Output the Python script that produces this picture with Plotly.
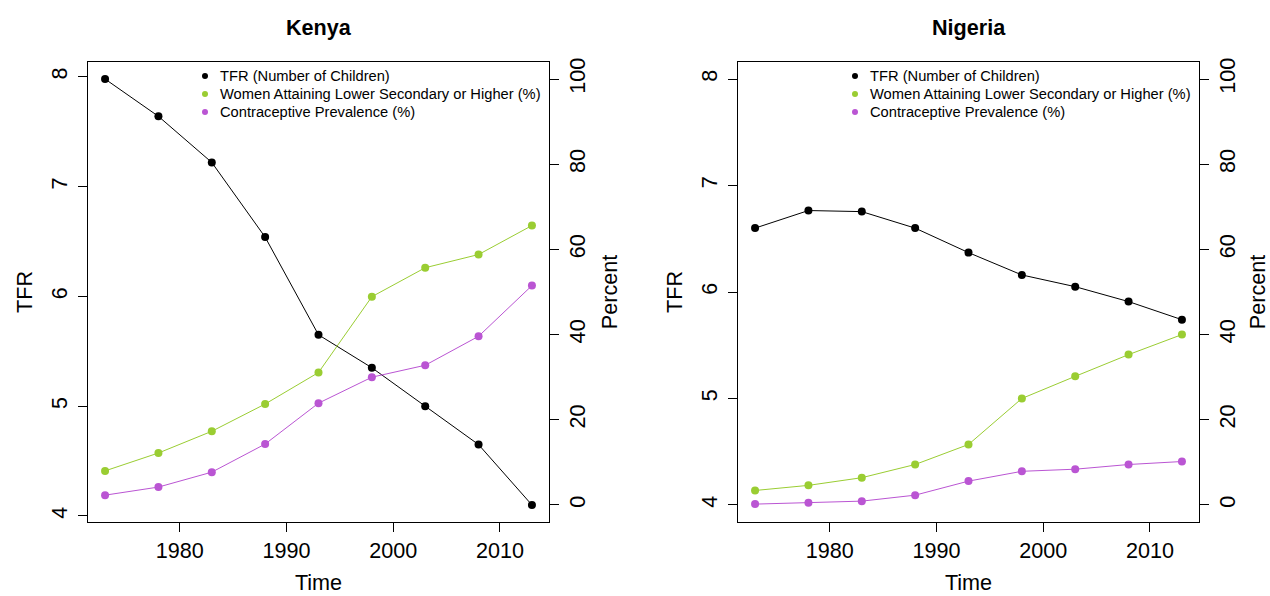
import plotly.graph_objects as go

# Survey years
years = [1973, 1978, 1983, 1988, 1993, 1998, 2003, 2008, 2013]

# Kenya
kenya_tfr = [7.98, 7.64, 7.22, 6.54, 5.65, 5.35, 5.00, 4.65, 4.10]
kenya_edu = [8.0, 12.2, 17.3, 23.7, 31.1, 48.9, 55.7, 58.8, 65.6]
kenya_cpr = [2.3, 4.2, 7.7, 14.3, 23.9, 30.0, 32.8, 39.6, 51.5]

# Nigeria
nigeria_tfr = [6.60, 6.765, 6.755, 6.60, 6.37, 6.16, 6.05, 5.91, 5.74]
nigeria_edu = [3.4, 4.6, 6.4, 9.5, 14.2, 25.0, 30.2, 35.3, 40.0]
nigeria_cpr = [0.2, 0.5, 0.9, 2.3, 5.6, 7.9, 8.4, 9.5, 10.2]

series_names = ["TFR (Number of Children)",
                "Women Attaining Lower Secondary or Higher (%)",
                "Contraceptive Prevalence (%)"]
series_colors = ["#000000", "#9ACD32", "#BA55D3"]

x_ticks = [1980, 1990, 2000, 2010]
tfr_ticks = [4, 5, 6, 7, 8]
pct_ticks = [0, 20, 40, 60, 80, 100]

W, H = 1270, 596
FONT = "Liberation Sans, Arial, Helvetica, sans-serif"


def px(x):
    return x / W


def py(y):
    return 1 - y / H


fig = go.Figure()

panels = [
    dict(name="Kenya", tfr=kenya_tfr, edu=kenya_edu, cpr=kenya_cpr,
         xa="x", ya_l="y", ya_r="y2", left=88, right=549,
         tfr_range=[3.945, 8.135]),
    dict(name="Nigeria", tfr=nigeria_tfr, edu=nigeria_edu, cpr=nigeria_cpr,
         xa="x2", ya_l="y3", ya_r="y4", left=738, right=1199,
         tfr_range=[3.84, 8.16]),
]

top, bottom = 62, 522

annotations = []
shapes = []
for p in panels:
    # TFR on the left axis, percentages on the right axis
    fig.add_trace(go.Scatter(
        x=years, y=p["cpr"], mode="lines+markers", name=series_names[2],
        line=dict(color=series_colors[2], width=1),
        marker=dict(color=series_colors[2], size=8),
        xaxis=p["xa"], yaxis=p["ya_r"], showlegend=False))
    fig.add_trace(go.Scatter(
        x=years, y=p["edu"], mode="lines+markers", name=series_names[1],
        line=dict(color=series_colors[1], width=1),
        marker=dict(color=series_colors[1], size=8),
        xaxis=p["xa"], yaxis=p["ya_r"], showlegend=False))
    fig.add_trace(go.Scatter(
        x=years, y=p["tfr"], mode="lines+markers", name=series_names[0],
        line=dict(color=series_colors[0], width=1),
        marker=dict(color=series_colors[0], size=8),
        xaxis=p["xa"], yaxis=p["ya_l"], showlegend=False))

    # panel title
    annotations.append(dict(
        text="<b>" + p["name"] + "</b>", x=px((p["left"] + p["right"]) / 2),
        y=py(27), xref="paper", yref="paper", xanchor="center",
        yanchor="middle", showarrow=False,
        font=dict(family=FONT, size=21.6, color="black")))

    # legend: dots and labels
    for i, (nm, col) in enumerate(zip(series_names, series_colors)):
        ry = 76 + 18 * i
        shapes.append(dict(
            type="circle", xref="paper", yref="paper",
            xsizemode="pixel", ysizemode="pixel",
            xanchor=px(p["left"] + 117), yanchor=py(ry),
            x0=-3, x1=3, y0=-3, y1=3,
            fillcolor=col, line=dict(color=col, width=0)))
        annotations.append(dict(
            text=nm, x=px(p["left"] + 130), y=py(ry), xref="paper",
            yref="paper", xanchor="left", yanchor="middle", showarrow=False,
            font=dict(family=FONT, size=14.7, color="black")))

axis_font = dict(family=FONT, size=21.6, color="black")
common = dict(showgrid=False, zeroline=False, showline=True,
              linecolor="black", linewidth=1, ticks="outside", ticklen=9,
              tickwidth=1, tickcolor="black", tickfont=axis_font)

layout_axes = {}
for k, p in enumerate(panels):
    xa_key = "xaxis" if k == 0 else "xaxis2"
    yl_key = "yaxis" if k == 0 else "yaxis3"
    yr_key = "yaxis2" if k == 0 else "yaxis4"
    dom_x = [px(p["left"]), px(p["right"])]
    dom_y = [py(bottom), py(top)]
    layout_axes[xa_key] = dict(
        common, domain=dom_x, range=[1971.4, 2014.6], tickvals=x_ticks,
        anchor=p["ya_l"], mirror=True, ticklabelstandoff=0,
        title=dict(text="Time", font=axis_font, standoff=12))
    layout_axes[yl_key] = dict(
        common, domain=dom_y, range=p["tfr_range"], tickvals=tfr_ticks,
        anchor=p["xa"], side="left", tickangle=-90, ticklabelstandoff=2,
        title=dict(text="TFR", font=axis_font, standoff=8))
    layout_axes[yr_key] = dict(
        common, range=[-4, 104], tickvals=pct_ticks,
        anchor=p["xa"], overlaying=p["ya_l"], side="right", tickangle=-90,
        ticklabelstandoff=0,
        title=dict(text="Percent", font=axis_font, standoff=12))

fig.update_layout(
    width=W, height=H,
    margin=dict(l=0, r=0, t=0, b=0, autoexpand=False),
    paper_bgcolor="white", plot_bgcolor="white",
    showlegend=False,
    annotations=annotations, shapes=shapes,
    **layout_axes)

fig.write_html("out.html")
